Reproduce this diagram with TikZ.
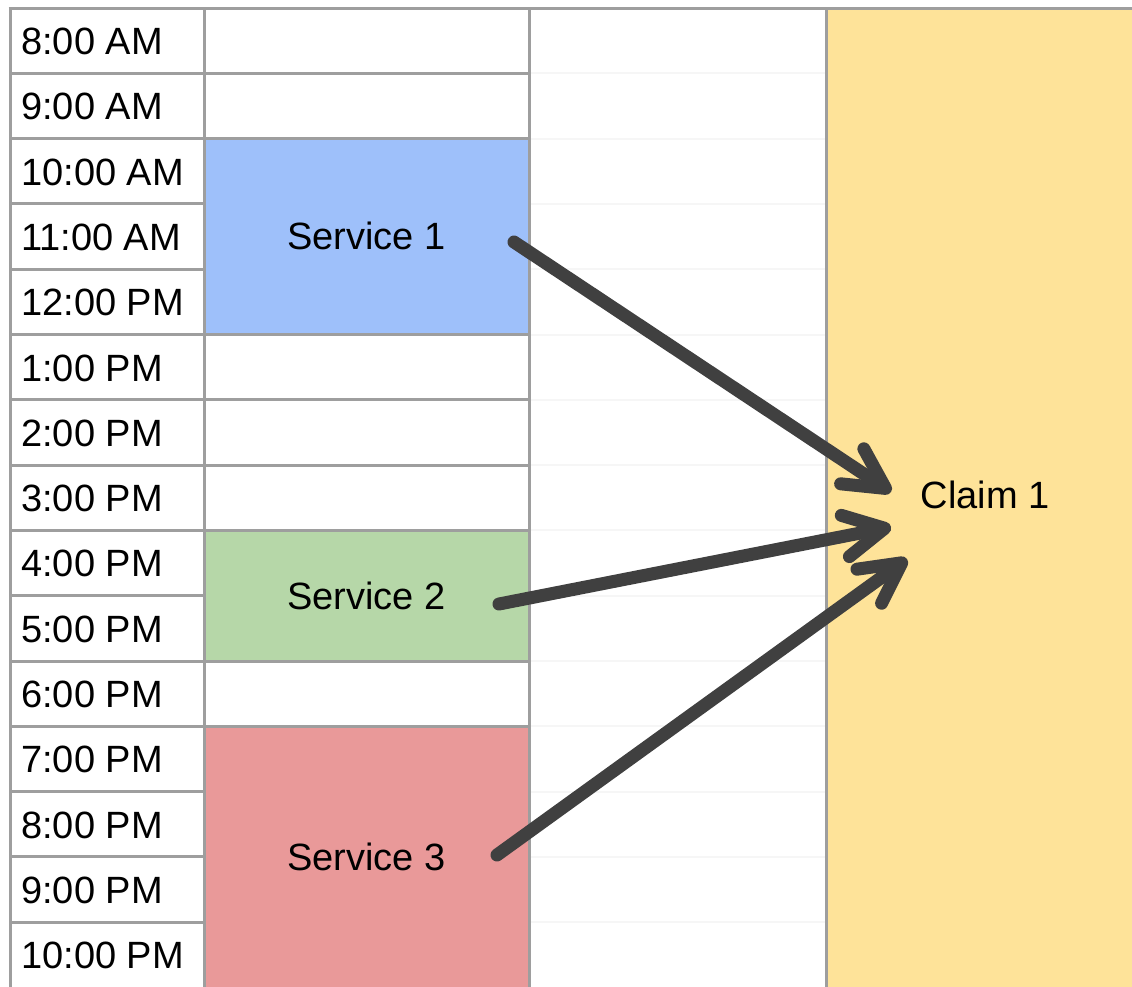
\documentclass[tikz,border=0pt]{standalone}
\usepackage{fontspec}
\setmainfont{Liberation Sans}
\usetikzlibrary{arrows.meta}
\definecolor{gridline}{HTML}{9E9E9E}
\definecolor{faintline}{HTML}{F6F6F6}
\definecolor{bluefill}{HTML}{9EC0FA}
\definecolor{greenfill}{HTML}{B6D7A8}
\definecolor{redfill}{HTML}{E99999}
\definecolor{yellowfill}{HTML}{FEE399}
\definecolor{arrowgray}{HTML}{404040}
\begin{document}
\begin{tikzpicture}[x=1pt,y=-1pt,
  grid/.style={draw=gridline,line width=3pt},
  faint/.style={draw=faintline,line width=2pt},
  label/.style={inner sep=0pt,font=\fontsize{38}{46}\selectfont},
  timelabel/.style={label,anchor=west},
  link/.style={draw=arrowgray,line width=13pt,line cap=round,
    -{Straight Barb[length=40pt,width=42pt,round]}}]
\useasboundingbox (0,0) rectangle (1132,986);
\clip (0,0) rectangle (1132,986);
\def\rowtop#1{8+65.3*#1}

% coloured blocks
\fill[yellowfill] (826,8) rectangle (1140,995);
\fill[bluefill] (204,{\rowtop{2}}) rectangle (529,{\rowtop{5}});
\fill[greenfill] (204,{\rowtop{8}}) rectangle (529,{\rowtop{10}});
\fill[redfill] (204,{\rowtop{11}}) rectangle (529,995);

% faint row rules of the empty column
\foreach \i in {1,...,14}
  \draw[faint] (529,{\rowtop{\i}}) -- (826,{\rowtop{\i}});

% row rules of the time column
\foreach \i in {0,...,14}
  \draw[grid] (10,{\rowtop{\i}}) -- (204,{\rowtop{\i}});
% row rules of the service column
\foreach \i in {1,2,5,6,7,8,10,11}
  \draw[grid] (204,{\rowtop{\i}}) -- (529,{\rowtop{\i}});
% top border and column rules
\draw[grid] (8.5,8) -- (1140,8);
\foreach \x in {10,204,529,826}
  \draw[grid] (\x,8) -- (\x,995);

% time labels
\foreach \t [count=\i from 0] in {8:00 AM,9:00 AM,10:00 AM,11:00 AM,12:00 PM,
    1:00 PM,2:00 PM,3:00 PM,4:00 PM,5:00 PM,6:00 PM,7:00 PM,8:00 PM,9:00 PM,10:00 PM}
  \node[timelabel] (t\i) at (21,{\rowtop{\i}+33.5}) {\t};

% blocks' texts
\node[label] (s1) at (366.5,236) {Service 1};
\node[label] (s2) at (366.5,596) {Service 2};
\node[label] (s3) at (366.5,857) {Service 3};
\node[label] (claim) at (985,495) {Claim 1};

% arrow ends
\coordinate (s1out) at (514,242);
\coordinate (s2out) at (499,604);
\coordinate (s3out) at (497,855);
\coordinate (in1) at (891,492);
\coordinate (in2) at (891,527);
\coordinate (in3) at (907,559);

\draw[link] (s1out) -- (in1);
\draw[link] (s2out) -- (in2);
\draw[link] (s3out) -- (in3);
\end{tikzpicture}
\end{document}
